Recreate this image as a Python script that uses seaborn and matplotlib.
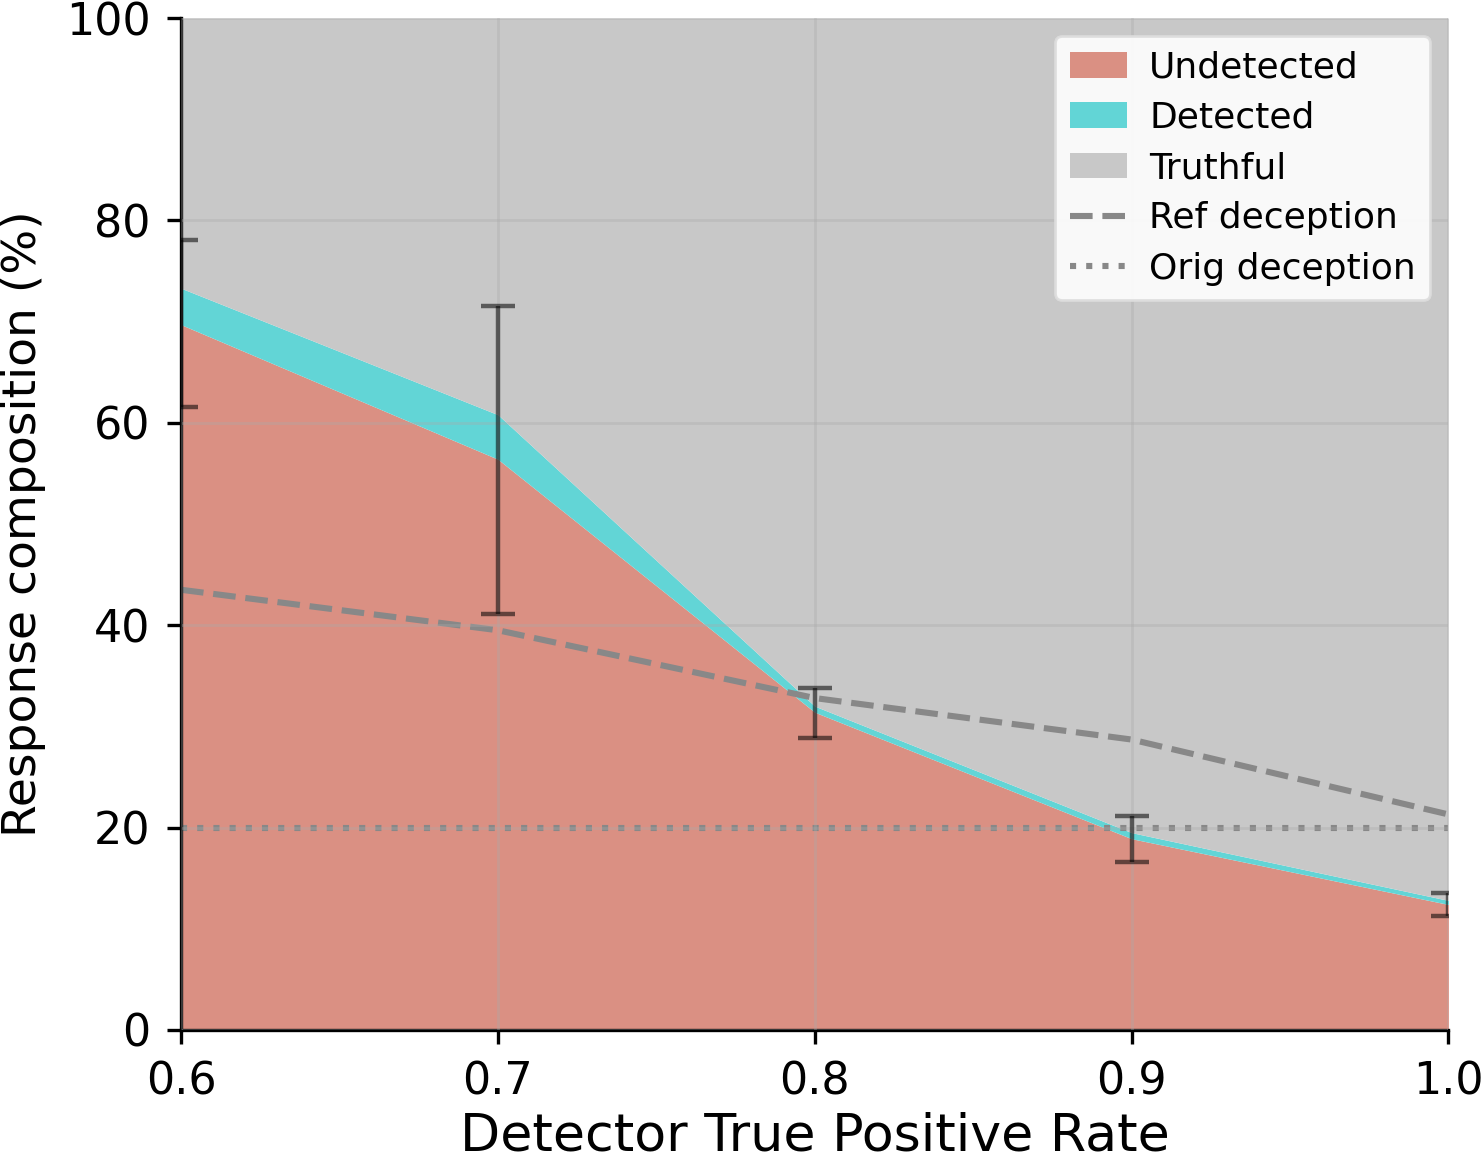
import numpy as np
import pandas as pd
import matplotlib
matplotlib.use("Agg")
import matplotlib.pyplot as plt
import seaborn as sns

# detector true positive rate
tpr = [0.6, 0.7, 0.8, 0.9, 1.0]
# response composition in percent
undetected = [69.7, 56.4, 31.4, 18.9, 12.4]
detected = [3.6, 4.4, 0.6, 0.6, 0.4]
err_low = [61.6, 41.1, 28.9, 16.6, 11.3]
err_high = [78.1, 71.5, 33.8, 21.1, 13.5]
ref_deception = [43.5, 39.5, 32.8, 28.7, 21.3]
orig_deception = [20, 20, 20, 20, 20]

df = pd.DataFrame({"tpr": tpr, "undetected": undetected, "detected": detected,
                   "ref": ref_deception, "orig": orig_deception})
df["deceptive"] = df["undetected"] + df["detected"]

sns.set_theme(style="ticks")
plt.rcParams["font.family"] = ["DejaVu Sans"]
plt.rcParams["text.color"] = "black"
plt.rcParams["axes.labelcolor"] = "black"

fig, ax = plt.subplots(figsize=(7.42, 5.815), dpi=200)
fig.subplots_adjust(left=0.122, right=0.976, top=0.9845, bottom=0.1144)

c_und = "#da9083"
c_det = "#62d5d6"
c_tru = "#c8c8c8"

ax.fill_between(df["tpr"], 0, df["undetected"], color=c_und, lw=0, label="Undetected")
ax.fill_between(df["tpr"], df["undetected"], df["deceptive"], color=c_det, lw=0, label="Detected")
ax.fill_between(df["tpr"], df["deceptive"], 100, color=c_tru, lw=0, label="Truthful")

sns.lineplot(data=df, x="tpr", y="ref", ax=ax, color="#888888", lw=2.2,
             linestyle="--", label="Ref deception")
sns.lineplot(data=df, x="tpr", y="orig", ax=ax, color="#888888", lw=2.2,
             linestyle=":", label="Orig deception")

yerr = [np.array(undetected) - np.array(err_low), np.array(err_high) - np.array(undetected)]
ax.errorbar(tpr, undetected, yerr=yerr, fmt="none", ecolor="black", alpha=0.55,
            elinewidth=1.6, capsize=6, capthick=1.6, zorder=5)

ax.grid(True, color="#aaaaaa", alpha=0.35, lw=1.0)
ax.set_axisbelow(False)

ax.set_xlim(0.6, 1.0)
ax.set_ylim(0, 100)
ax.set_xticks([0.6, 0.7, 0.8, 0.9, 1.0])
ax.set_yticks([0, 20, 40, 60, 80, 100])
ax.set_xlabel("Detector True Positive Rate", fontsize=18.8, labelpad=3)
ax.set_ylabel("Response composition (%)", fontsize=17, labelpad=7)
ax.tick_params(labelsize=16, length=5, width=1.2, pad=6, colors="black")
for s in ["left", "bottom"]:
    ax.spines[s].set_color("black")
    ax.spines[s].set_linewidth(1.2)
sns.despine(ax=ax)

leg = ax.legend(loc="upper right", fontsize=13, frameon=True, framealpha=0.9,
                facecolor="white", edgecolor="#dddddd", handlelength=1.6,
                handletextpad=0.6, labelspacing=0.45)
for t in leg.get_texts():
    t.set_color("black")

fig.savefig("out.png", dpi=200)
